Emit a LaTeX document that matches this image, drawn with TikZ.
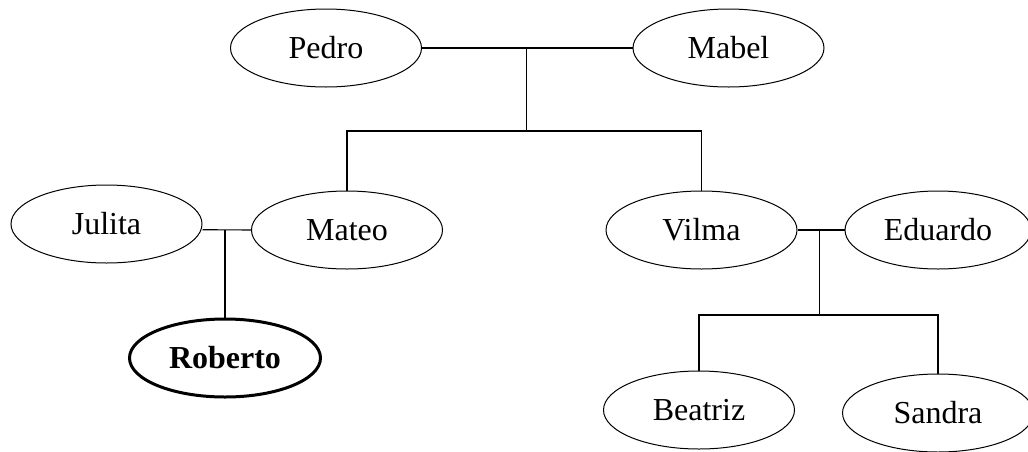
\documentclass[tikz,border=0pt]{standalone}
\usepackage{fontspec}
\setmainfont{Liberation Serif}
\usetikzlibrary{shapes.geometric}
\begin{document}
\begin{tikzpicture}[x=0.5pt,y=-0.5pt,
  person/.style={draw, ellipse, line width=0.5pt, minimum width=95.5pt, minimum height=39pt, inner sep=0pt, font=\fontsize{16}{19}\selectfont},
  ego/.style={person, line width=1.5pt, font=\fontsize{16}{19}\selectfont\bfseries},
  link/.style={line width=0.55pt}]
\useasboundingbox (0,0) rectangle (1028,451);
\node[person] (Pedro) at (326,48) {Pedro};
\node[person] (Mabel) at (728.5,48) {Mabel};
\node[person] (Julita) at (106.5,224) {Julita};
\node[person] (Mateo) at (347,230) {Mateo};
\node[ego] (Roberto) at (225,358) {Roberto};
\node[person] (Vilma) at (701.5,230) {Vilma};
\node[person, minimum width=93pt] (Eduardo) at (938,230) {Eduardo};
\node[person] (Beatriz) at (699,410) {Beatriz};
\node[person] (Sandra) at (938,413) {Sandra};
\coordinate (pm) at (526.3,48);
\coordinate (pmb) at (526.3,131);
\coordinate (jm) at (225,229.7);
\coordinate (ve) at (819.3,230);
\coordinate (veb) at (819.3,315);
\draw[link] (Pedro.east) -- (Mabel.west);
\draw[link] (pm) -- (pmb);
\draw[link] (Mateo.north) |- (pmb) -| (Vilma.north);
\draw[link] (Julita.east |- jm) -- (Mateo.west);
\draw[link] (jm) -- (Roberto.north);
\draw[link] (Vilma.east) -- (Eduardo.west);
\draw[link] (ve) -- (veb);
\draw[link] (Beatriz.north) |- (veb) -| (Sandra.north);
\end{tikzpicture}
\end{document}
